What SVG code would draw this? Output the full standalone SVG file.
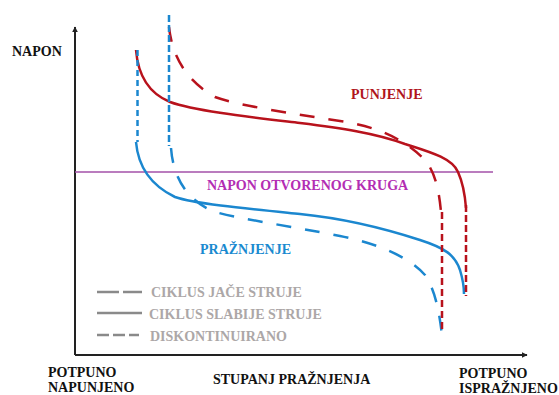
<svg xmlns="http://www.w3.org/2000/svg" width="559" height="395" viewBox="0 0 559 395">
<style>
text{font-family:"Liberation Serif","Times New Roman",serif;font-weight:bold;font-size:14px}
.lbl{fill:#111}
.red{fill:none;stroke:#b8121c;stroke-width:2.5}
.blue{fill:none;stroke:#1b87cf;stroke-width:2.5}
.leg{fill:none;stroke:#8a8a8a;stroke-width:2.5}
.legt{fill:#aca7a7}
</style>
<defs>
<marker id="arr" viewBox="0 0 10 10" refX="9" refY="5" markerWidth="6" markerHeight="6" markerUnits="userSpaceOnUse" orient="auto">
<path d="M0,0 L10,5 L0,10 Z" fill="#222"/>
</marker>
</defs>
<rect width="559" height="395" fill="#fff"/>
<g id="axes">
<line x1="75" y1="355" x2="75" y2="27" stroke="#222" stroke-width="2" marker-end="url(#arr)"/>
<line x1="75" y1="355" x2="527" y2="355" stroke="#222" stroke-width="2" marker-end="url(#arr)"/>
</g>
<g id="ocv-line">
<line x1="75" y1="172" x2="493" y2="172" stroke="#a350a8" stroke-width="1.3"/>
</g>
<g id="connectors">
<path id="charge-solid" class="red" d="M136,50 C138,75 148,93 170,102 C195,111 250,117 300,123 C340,128 375,133 405,144 C430,152 452,158 458,172 C463,183 465,195 466,208"/>
<path id="discharge-solid" class="blue" d="M136,142 C138,165 150,185 175,197 C195,204 250,209 300,214 C340,218 380,227 420,240 C445,248 455,255 460,270 C463,280 464,287 464,294"/>
<path id="charge-dashed" class="red" stroke-dasharray="15 14" d="M169,27 C172,55 185,80 215,97 C240,106 290,113 340,121 C380,127 405,140 425,160 C435,172 439,190 441,212"/>
<path id="discharge-dashed" class="blue" stroke-dasharray="15 14" d="M171,148 C173,175 185,200 215,212 C245,220 290,226 340,236 C380,244 410,258 425,275 C435,290 439,310 442,335"/>
<line id="v-blue-1" x1="137.5" y1="50" x2="137.5" y2="142" class="blue" stroke-dasharray="6 4"/>
<line id="v-blue-2" x1="169" y1="15" x2="169" y2="146" class="blue" stroke-width="3" stroke-dasharray="7 3"/>
<line id="v-red-1" x1="442" y1="212" x2="442" y2="333" class="red" stroke-width="2.2" stroke-dasharray="7 4"/>
<line id="v-red-2" x1="466" y1="205" x2="466" y2="296" class="red" stroke-width="3" stroke-dasharray="7 3"/>
</g>
<g id="label-napon"><text class="lbl" x="12" y="56">NAPON</text></g>
<g id="label-punjenje"><text x="351" y="99" fill="#b0141c">PUNJENJE</text></g>
<g id="label-ocv"><text x="207" y="190" fill="#b32db3">NAPON OTVORENOG KRUGA</text></g>
<g id="label-praznjenje"><text x="200" y="254" fill="#1a8ad0">PRAŽNJENJE</text></g>
<g id="legend">
<line x1="97" y1="292" x2="142" y2="292" class="leg" stroke-dasharray="22 4"/>
<text class="legt" x="151" y="297">CIKLUS JAČE STRUJE</text>
<line x1="97" y1="313" x2="142" y2="313" class="leg" stroke-width="3"/>
<text class="legt" x="149" y="319">CIKLUS SLABIJE STRUJE</text>
<line x1="97" y1="335" x2="139" y2="335" class="leg" stroke-dasharray="12 4"/>
<text class="legt" x="150" y="341">DISKONTINUIRANO</text>
</g>
<g id="label-full"><text class="lbl" x="48" y="377">POTPUNO</text><text class="lbl" x="48" y="392">NAPUNJENO</text></g>
<g id="label-x"><text class="lbl" x="213" y="384">STUPANJ PRAŽNJENJA</text></g>
<g id="label-empty"><text class="lbl" x="459" y="378">POTPUNO</text><text class="lbl" x="459" y="393" font-size="13.5">ISPRAŽNJENO</text></g>
</svg>
